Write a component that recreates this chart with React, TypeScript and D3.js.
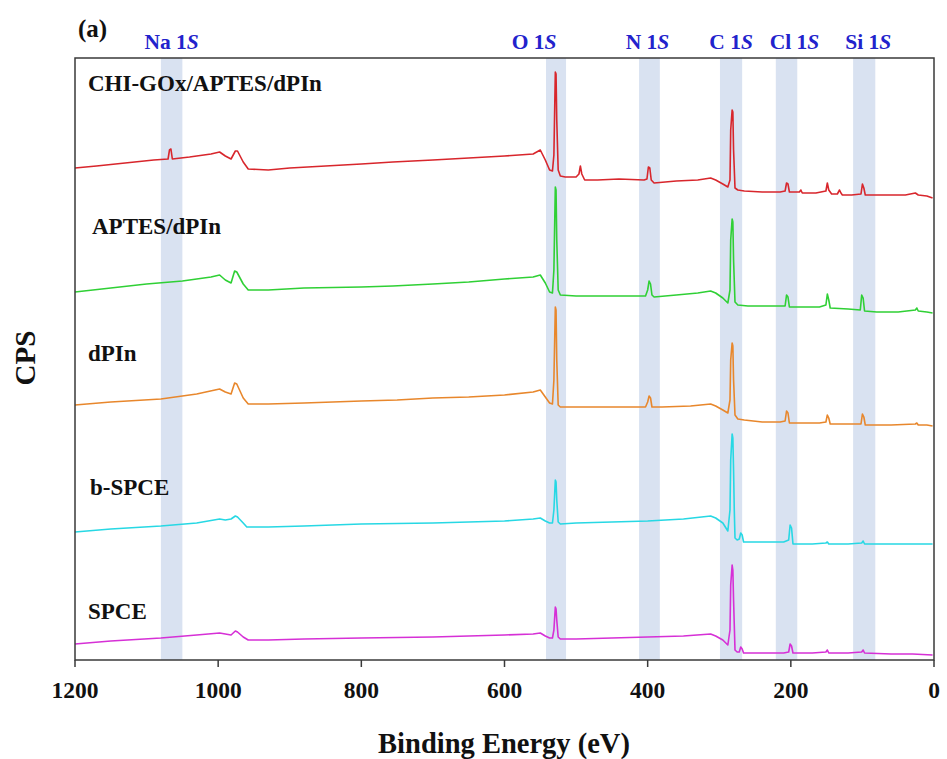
import React from "react";
import * as d3 from "d3";

// Binding energy (eV), CPS (arbitrary, stacked) pairs
const chiGox: [number, number][] = [
  [1200, 492], [1170, 494], [1130, 497], [1090, 500], [1070, 501], [1068, 510], [1066, 511], [1064, 501],
  [1040, 503], [1010, 506], [998, 508], [990, 504], [982, 501], [976, 509], [973, 509], [965, 498],
  [958, 491], [930, 490], [900, 492], [850, 494], [800, 496], [756, 498], [700, 500], [650, 502],
  [600, 504], [560, 506], [550, 510], [543, 500], [537, 490], [533, 489], [531, 505], [529, 588],
  [528, 586], [527, 540], [525, 490], [522, 484], [515, 483], [500, 483], [496, 486], [494, 494],
  [492, 486], [488, 480], [470, 480], [440, 481], [405, 480], [401, 481], [399, 493], [397, 492],
  [395, 480], [391, 477], [360, 479], [330, 480], [312, 482], [305, 480], [295, 476], [288, 473],
  [285, 480], [284, 530], [282, 550], [281, 548], [280, 510], [278, 472], [274, 470], [265, 469],
  [240, 468], [215, 468], [208, 469], [206, 477], [204, 476], [202, 468], [188, 468], [186, 470],
  [184, 467], [165, 467], [151, 469], [149, 477], [147, 470], [143, 466], [135, 466], [132, 470],
  [130, 467], [128, 465], [115, 465], [102, 466], [100, 476], [98, 472], [96, 465], [70, 465],
  [40, 465], [26, 467], [22, 465], [10, 464], [2, 462],
];

const aptes: [number, number][] = [
  [1200, 368], [1150, 372], [1100, 376], [1050, 379], [1010, 383], [998, 385], [990, 380], [982, 377],
  [977, 389], [974, 388], [965, 376], [958, 370], [930, 370], [880, 372], [800, 373], [756, 374],
  [700, 376], [650, 378], [600, 381], [560, 383], [550, 385], [543, 377], [537, 368], [533, 367],
  [531, 390], [529, 473], [528, 470], [527, 420], [525, 370], [522, 365], [500, 364], [450, 364],
  [403, 364], [400, 370], [398, 379], [396, 376], [394, 365], [391, 363], [360, 365], [330, 367],
  [312, 369], [305, 367], [295, 362], [288, 357], [285, 370], [284, 420], [282, 441], [281, 438],
  [280, 400], [278, 358], [274, 355], [260, 354], [230, 354], [208, 354], [206, 365], [204, 363],
  [202, 353], [180, 353], [160, 353], [151, 355], [149, 366], [147, 360], [145, 352], [120, 351],
  [103, 350], [101, 365], [99, 362], [97, 349], [80, 348], [50, 348], [26, 350], [24, 352],
  [22, 349], [10, 348], [2, 347],
];

const dPIn: [number, number][] = [
  [1200, 255], [1150, 258], [1080, 261], [1030, 266], [998, 271], [990, 268], [982, 266], [977, 277],
  [974, 276], [965, 262], [958, 256], [930, 256], [880, 257], [800, 259], [750, 260], [700, 262],
  [650, 263], [600, 265], [560, 268], [550, 270], [543, 263], [537, 257], [533, 256], [531, 280],
  [529, 353], [528, 350], [527, 300], [525, 255], [522, 253], [500, 253], [450, 253], [403, 253],
  [400, 258], [398, 264], [396, 262], [394, 253], [380, 253], [340, 254], [312, 256], [305, 254],
  [295, 250], [288, 247], [285, 260], [284, 300], [282, 317], [281, 314], [280, 280], [278, 245],
  [274, 241], [265, 240], [240, 238], [215, 238], [208, 239], [206, 249], [204, 247], [202, 237],
  [180, 237], [160, 237], [151, 238], [149, 245], [147, 242], [145, 236], [120, 236], [102, 236],
  [100, 246], [98, 243], [96, 235], [60, 235], [26, 236], [24, 237], [22, 235], [10, 235], [2, 234],
];

const bSpce: [number, number][] = [
  [1200, 128], [1150, 131], [1080, 134], [1030, 137], [998, 141], [990, 140], [982, 141], [976, 144],
  [973, 143], [965, 137], [960, 133], [930, 133], [880, 134], [800, 136], [700, 137], [600, 139],
  [560, 141], [550, 142], [543, 139], [537, 137], [533, 137], [531, 150], [529, 180], [528, 178],
  [527, 160], [525, 138], [522, 136], [500, 137], [450, 138], [400, 139], [350, 141], [312, 144],
  [305, 142], [295, 137], [288, 129], [285, 150], [284, 200], [282, 226], [281, 222], [280, 190],
  [279, 150], [278, 122], [275, 120], [272, 121], [270, 127], [268, 125], [266, 118], [250, 118],
  [210, 118], [203, 120], [201, 135], [199, 132], [197, 116], [170, 116], [151, 117], [149, 118],
  [147, 116], [120, 116], [101, 117], [99, 119], [97, 116], [60, 116], [30, 116], [2, 116],
];

const spce: [number, number][] = [
  [1200, 16], [1150, 19], [1080, 22], [1030, 25], [998, 27], [990, 26], [982, 25], [976, 29],
  [973, 28], [965, 23], [958, 20], [930, 20], [880, 21], [800, 22], [700, 23], [600, 25],
  [560, 26], [550, 27], [543, 24], [537, 22], [533, 22], [531, 30], [529, 53], [528, 51],
  [527, 40], [525, 23], [522, 21], [500, 21], [450, 22], [400, 23], [350, 24], [312, 26],
  [305, 24], [295, 20], [288, 15], [285, 30], [284, 75], [282, 95], [281, 90], [280, 60],
  [279, 35], [278, 10], [275, 8], [272, 8], [270, 13], [268, 11], [266, 7], [250, 7],
  [210, 7], [203, 8], [201, 16], [199, 14], [197, 7], [170, 7], [151, 8], [149, 10],
  [147, 7], [120, 7], [101, 8], [99, 10], [97, 7], [60, 6], [30, 6], [2, 5],
];

const seriesNames = ["CHI-GOx/APTES/dPIn", "APTES/dPIn", "dPIn", "b-SPCE", "SPCE"];
const seriesData = [chiGox, aptes, dPIn, bSpce, spce];
const seriesColors = ["#d8262c", "#2fd035", "#e8872c", "#27d8e4", "#d630d6"];

// Shaded element bands (eV)
const bandElements = ["Na", "O", "N", "C", "Cl", "Si"];
const bandLo = [1050, 514, 383, 268, 191, 82];
const bandHi = [1080, 542, 412, 299, 221, 113];

const xTicks = [1200, 1000, 800, 600, 400, 200, 0];

export default function App() {
  const W = 947, H = 759;
  const left = 75, right = 934, top = 58, bottom = 660;
  const x = d3.scaleLinear().domain([1200, 0]).range([left, right]);
  const y = d3.scaleLinear().domain([0, 602]).range([bottom, top]);
  const line = d3.line<[number, number]>().x((d) => x(d[0])).y((d) => y(d[1]));

  // label horizontal adjustments (px) relative to band center
  const labelDx = [0, -22, -2, 0, 8, 4];
  const seriesLabelX = [88, 92, 88, 90, 88];
  const seriesLabelY = [91, 234, 361, 495, 619];

  return (
    <svg width={W} height={H} style={{ position: "absolute", left: 0, top: 0, background: "#fff" }}
      fontFamily="'Liberation Serif', 'Times New Roman', serif">
      <rect x={0} y={0} width={W} height={H} fill="#fff" />
      {bandElements.map((el, i) => (
        <rect key={el} x={x(bandHi[i])} y={top} width={x(bandLo[i]) - x(bandHi[i])} height={bottom - top}
          fill="#d9e2f1" />
      ))}
      {seriesData.map((s, i) => (
        <path key={i} d={line(s) || ""} fill="none" stroke={seriesColors[i]} strokeWidth={1.6}
          strokeLinejoin="round" />
      ))}
      <rect x={left} y={top} width={right - left} height={bottom - top} fill="none" stroke="#3a3a3a" strokeWidth={1.5} />
      {xTicks.map((t) => (
        <g key={t}>
          <line x1={x(t)} x2={x(t)} y1={bottom} y2={bottom + 7} stroke="#3a3a3a" strokeWidth={1.5} />
          <text x={x(t)} y={698} textAnchor="middle" fontSize={23.5} fontWeight="bold" fill="#111">{t}</text>
        </g>
      ))}
      <text x={504} y={753} textAnchor="middle" fontSize={28.5} fontWeight="bold" fill="#111">Binding Energy (eV)</text>
      <text transform="translate(35,358) rotate(-90)" textAnchor="middle" fontSize={29} fontWeight="bold" fill="#111">CPS</text>
      <text x={78} y={37} fontSize={25} fontWeight="bold" fill="#111">(a)</text>
      {bandElements.map((el, i) => (
        <text key={el} x={(x(bandLo[i]) + x(bandHi[i])) / 2 + labelDx[i]} y={49} textAnchor="middle"
          fontSize={21.5} fontWeight="bold" fill="#2222cc">
          {el} 1<tspan fontStyle="italic">S</tspan>
        </text>
      ))}
      {seriesNames.map((n, i) => (
        <text key={n} x={seriesLabelX[i]} y={seriesLabelY[i]} fontSize={23} fontWeight="bold" fill="#111">{n}</text>
      ))}
    </svg>
  );
}
